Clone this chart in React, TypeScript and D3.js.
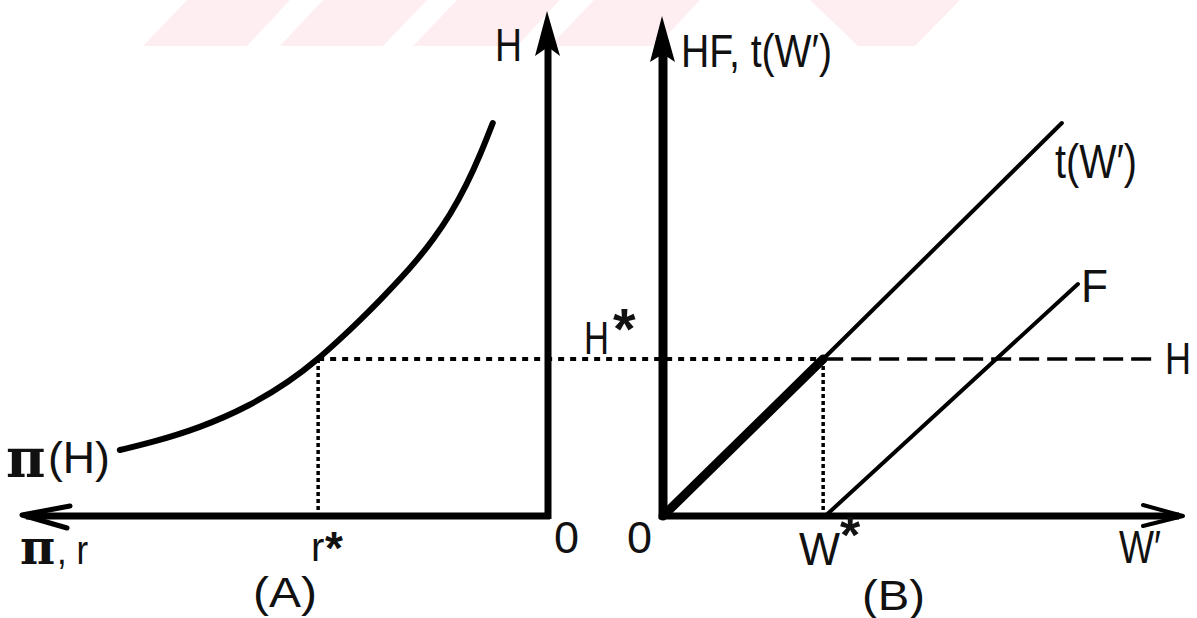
import React from "react";
import * as d3 from "d3";

// ---- data (arbitrary model units) ----
// Panel A: profit curve pi(H): r on the (leftward) horizontal axis, H on the vertical
const PI_R = [8.14, 7.57, 6.62, 5.67, 4.9, 4.37, 3.95, 3.57, 3.19, 2.81, 2.49, 2.19, 1.86, 1.54, 1.29, 1.05];
const PI_H = [1.32, 1.46, 1.76, 2.2, 2.7, 3.14, 3.54, 3.92, 4.32, 4.74, 5.12, 5.52, 6.02, 6.64, 7.22, 7.86];
// equilibrium values
const H_STAR = 3.14;
const R_STAR = 4.37;
const W_STAR = 3.08;
// Panel B: t(W') line and F line
const T_W = [0, 3.08, 7.67];
const T_H = [0, 3.14, 7.86];
const F_W = [3.12, 7.98];
const F_H = [0, 4.64];
const H_LINE_END_W = 9.46;
// axis extents
const AXIS_MAX = 10;
const AXIS_A_HMAX = 10.1;
const AXIS_B_HMAX = 10.0;

const FONT = "'Liberation Sans', Arial, sans-serif";
const PI_FONT = "'DejaVu Serif', 'Liberation Serif', serif";
const STAR_FONT = "'Liberation Sans', Arial, sans-serif";

export default function App() {
  const W = 1197;
  const H = 618;
  const xA = d3.scaleLinear().domain([0, AXIS_MAX]).range([548, 22]);
  const xB = d3.scaleLinear().domain([0, AXIS_MAX]).range([663, 1183]);
  const y = d3.scaleLinear().domain([0, AXIS_MAX]).range([516, 16]);

  const piPts: [number, number][] = PI_R.map((r, i) => [xA(r), y(PI_H[i])]);
  const curve = d3.line().curve(d3.curveBasis)(piPts) || "";

  const tThick = d3.line()([
    [xB(T_W[0]), y(T_H[0])],
    [xB(T_W[1]), y(T_H[1])],
  ]) || "";
  const tThin = d3.line()([
    [xB(T_W[1]), y(T_H[1])],
    [xB(T_W[2]), y(T_H[2])],
  ]) || "";
  const fLine = d3.line()(F_W.map((w, i) => [xB(w), y(F_H[i])] as [number, number])) || "";

  const x0A = xA(0);
  const x0B = xB(0);
  const y0 = y(0);
  const yStar = y(H_STAR);

  const aTipY = y(AXIS_A_HMAX);
  const bTipY = y(AXIS_B_HMAX);
  const leftTip = xA(AXIS_MAX);
  const rightTip = xB(AXIS_MAX);

  const pink = "#feeef1";
  const fit = { lengthAdjust: "spacingAndGlyphs" as const };

  return (
    <svg
      width={W}
      height={H}
      viewBox={`0 0 ${W} ${H}`}
      style={{ position: "absolute", left: 0, top: 0, display: "block", background: "#fff" }}
    >
      <rect x={0} y={0} width={W} height={H} fill="#fff" />
      {/* faint watermark band */}
      <g fill={pink}>
        <polygon points="143,46 247,46 290,0 187,0" />
        <polygon points="280,46 383,46 427,0 323,0" />
        <polygon points="413,46 517,46 560,0 457,0" />
        <polygon points="550,46 657,46 700,0 594,0" />
        <polygon points="810,0 960,0 915,46 858,46" />
      </g>

      {/* dotted / dashed H* line */}
      <line x1={xA(R_STAR)} y1={yStar} x2={xB(W_STAR)} y2={yStar} stroke="#000" strokeWidth={4} strokeDasharray="6 6" />
      <line x1={xB(W_STAR)} y1={yStar} x2={xB(H_LINE_END_W)} y2={yStar} stroke="#000" strokeWidth={3.5} strokeDasharray="20 8" />
      {/* vertical dotted drop lines */}
      <line x1={xA(R_STAR)} y1={yStar} x2={xA(R_STAR)} y2={y0} stroke="#000" strokeWidth={3.5} strokeDasharray="4 3" />
      <line x1={xB(W_STAR)} y1={yStar} x2={xB(W_STAR)} y2={y0} stroke="#000" strokeWidth={3.5} strokeDasharray="4 3" />

      {/* Panel A axes */}
      <line x1={x0A} y1={y0 + 3} x2={x0A} y2={aTipY + 30} stroke="#000" strokeWidth={7} />
      <path d={`M${x0A - 1},${aTipY} L${x0A + 12},${aTipY + 45} L${x0A},${aTipY + 36} L${x0A - 13},${aTipY + 45} Z`} fill="#000" />
      <line x1={x0A + 2} y1={y0} x2={leftTip + 4} y2={y0} stroke="#000" strokeWidth={7} />
      <path d={`M${leftTip + 48},${y0 - 10} L${leftTip},${y0 - 1} L${leftTip + 45},${y0 + 12}`} fill="none" stroke="#000" strokeWidth={5} strokeLinejoin="round" strokeLinecap="round" />

      {/* Panel B axes */}
      <line x1={x0B} y1={y0 + 3} x2={x0B} y2={bTipY + 30} stroke="#000" strokeWidth={9} />
      <path d={`M${x0B - 1},${bTipY} L${x0B + 12},${bTipY + 46} L${x0B},${bTipY + 38} L${x0B - 13},${bTipY + 46} Z`} fill="#000" />
      <line x1={x0B - 4} y1={y0} x2={rightTip - 4} y2={y0} stroke="#000" strokeWidth={7} />
      <path d={`M${rightTip - 40},${y0 - 11} L${rightTip},${y0} L${rightTip - 40},${y0 + 10}`} fill="none" stroke="#000" strokeWidth={4} strokeLinejoin="round" strokeLinecap="round" />

      {/* curves */}
      <path d={curve} fill="none" stroke="#000" strokeWidth={6} strokeLinecap="round" />
      <path d={tThick} fill="none" stroke="#000" strokeWidth={9} strokeLinecap="round" />
      <path d={tThin} fill="none" stroke="#000" strokeWidth={4} strokeLinecap="round" />
      <path d={fLine} fill="none" stroke="#000" strokeWidth={4} strokeLinecap="round" />

      {/* labels */}
      <g fill="#111" fontFamily={FONT}>
        <text x={495} y={61} fontSize={46} textLength={27} {...fit}>H</text>
        <text x={554} y={553} fontSize={45}>0</text>
        <text x={627} y={553} fontSize={45}>0</text>
        <text x={6} y={477} fontSize={54} fontFamily={PI_FONT} fontWeight="bold">π</text>
        <text x={48} y={473} fontSize={44} textLength={62} {...fit}>(H)</text>
        <text x={20} y={564} fontSize={48} fontFamily={PI_FONT} fontWeight="bold">π</text>
        <text x={57} y={564} fontSize={40} textLength={31} {...fit}>, r</text>
        <text x={311} y={561} fontSize={40}>r</text>
        <text x={325} y={564} fontSize={46} fontFamily={STAR_FONT} fontWeight="bold">*</text>
        <text x={253} y={607} fontSize={43} textLength={64} {...fit}>(A)</text>
        <text x={584} y={354} fontSize={46} textLength={25} {...fit}>H</text>
        <text x={613} y={349} fontSize={58} fontFamily={STAR_FONT} fontWeight="bold">*</text>
        <text x={681} y={67} fontSize={47} textLength={151} {...fit}>HF, t(W′)</text>
        <text x={1055} y={178} fontSize={48} textLength={82} {...fit}>t(W′)</text>
        <text x={1081} y={302} fontSize={46} textLength={27} {...fit}>F</text>
        <text x={1165} y={374} fontSize={45} textLength={26} {...fit}>H</text>
        <text x={799} y={565} fontSize={46} textLength={41} {...fit}>W</text>
        <text x={840} y={553} fontSize={52} fontFamily={STAR_FONT} fontWeight="bold">*</text>
        <text x={1119} y={563} fontSize={46} textLength={42} {...fit}>W′</text>
        <text x={862} y={610} fontSize={43} textLength={63} {...fit}>(B)</text>
      </g>
    </svg>
  );
}
